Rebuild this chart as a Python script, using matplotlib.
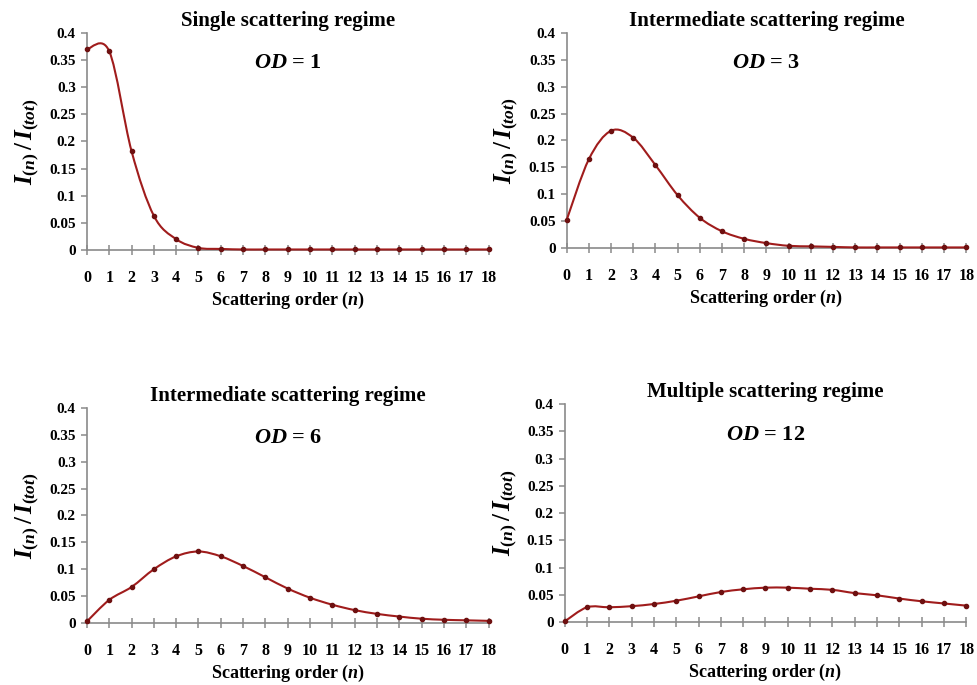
import numpy as np
import matplotlib
matplotlib.use("Agg")
import matplotlib.pyplot as plt
from matplotlib.path import Path
from matplotlib.patches import PathPatch

plt.rcParams['font.family'] = ['Liberation Serif', 'DejaVu Serif']
plt.rcParams['mathtext.fontset'] = 'custom'
plt.rcParams['mathtext.rm'] = 'Liberation Serif:bold'
plt.rcParams['mathtext.it'] = 'Liberation Serif:italic:bold'
plt.rcParams['mathtext.bf'] = 'Liberation Serif:bold'

orders = list(range(19))
titles = ["Single scattering regime", "Intermediate scattering regime",
          "Intermediate scattering regime", "Multiple scattering regime"]
od_values = [1, 3, 6, 12]

od1 = [0.370, 0.366, 0.182, 0.063, 0.020, 0.004, 0.002, 0.001, 0.001, 0.001,
       0.001, 0.001, 0.001, 0.001, 0.001, 0.001, 0.001, 0.001, 0.001]
od3 = [0.052, 0.165, 0.218, 0.205, 0.154, 0.098, 0.056, 0.031, 0.017, 0.009,
       0.004, 0.003, 0.002, 0.001, 0.001, 0.001, 0.001, 0.001, 0.001]
od6 = [0.003, 0.043, 0.067, 0.100, 0.124, 0.133, 0.124, 0.106, 0.085, 0.064,
       0.047, 0.034, 0.024, 0.017, 0.012, 0.008, 0.006, 0.005, 0.004]
od12 = [0.001, 0.027, 0.027, 0.029, 0.033, 0.039, 0.047, 0.055, 0.060, 0.063,
        0.063, 0.061, 0.059, 0.053, 0.049, 0.043, 0.038, 0.034, 0.030]
series = [od1, od3, od6, od12]

yticks = [0, 0.05, 0.1, 0.15, 0.2, 0.25, 0.3, 0.35, 0.4]
ytick_labels = ["0", "0.05", "0.1", "0.15", "0.2", "0.25", "0.3", "0.35", "0.4"]

LINE = "#a01c1c"
MARK = "#6e1010"
AXC = "#8a8a8a"

positions = [
    [0.089, 0.635, 0.411, 0.317],
    [0.580, 0.638, 0.409, 0.314],
    [0.089, 0.0905, 0.411, 0.314],
    [0.578, 0.092, 0.411, 0.318],
]


def smooth_path(x, y):
    x = np.asarray(x, float)
    y = np.asarray(y, float)
    px = np.concatenate([[x[0]], x, [x[-1]]])
    py = np.concatenate([[y[0]], y, [y[-1]]])
    verts = [(x[0], y[0])]
    codes = [Path.MOVETO]
    for i in range(1, len(px) - 2):
        c1 = (px[i] + (px[i + 1] - px[i - 1]) / 6, py[i] + (py[i + 1] - py[i - 1]) / 6)
        c2 = (px[i + 1] - (px[i + 2] - px[i]) / 6, py[i + 1] - (py[i + 2] - py[i]) / 6)
        verts += [c1, c2, (px[i + 1], py[i + 1])]
        codes += [Path.CURVE4] * 3
    return Path(verts, codes)


fig = plt.figure(figsize=(9.77, 6.85), dpi=100)
for k in range(4):
    ax = fig.add_axes(positions[k])
    vals = series[k]
    patch = PathPatch(smooth_path(orders, vals), facecolor='none', edgecolor=LINE,
                      lw=1.5, zorder=3, clip_on=False)
    ax.add_patch(patch)
    ax.plot(orders, vals, linestyle='none', marker='o', ms=3, color=MARK,
            zorder=4, clip_on=False)
    ax.set_xlim(0, 18)
    ax.set_ylim(0, 0.4)
    ax.set_xticks(orders)
    ax.set_xticklabels([str(o) for o in orders], fontsize=11.5, fontweight='bold')
    ax.set_yticks(yticks)
    ax.set_yticklabels(ytick_labels, fontsize=11, fontweight='bold')
    for s in ['top', 'right']:
        ax.spines[s].set_visible(False)
    for s in ['left', 'bottom']:
        ax.spines[s].set_color(AXC)
        ax.spines[s].set_linewidth(1.2)
    ax.tick_params(axis='x', direction='inout', length=7, width=1.1, color=AXC, pad=11)
    ax.tick_params(axis='y', direction='out', length=4, width=1.1, color=AXC, pad=4)
    ax.set_title(titles[k], fontsize=15, fontweight='bold', pad=5)
    ax.text(0.5, 0.86, r"$OD$ = %d" % od_values[k], transform=ax.transAxes,
            ha='center', va='center', fontsize=16, fontweight='bold')
    ax.set_xlabel(r"Scattering order $(n)$", fontsize=13, fontweight='bold', labelpad=3)
    ax.set_ylabel(r"$I_{(n)}\,/\,I_{(tot)}$", fontsize=18, labelpad=6)

fig.savefig("out.png", dpi=100, facecolor='white')
